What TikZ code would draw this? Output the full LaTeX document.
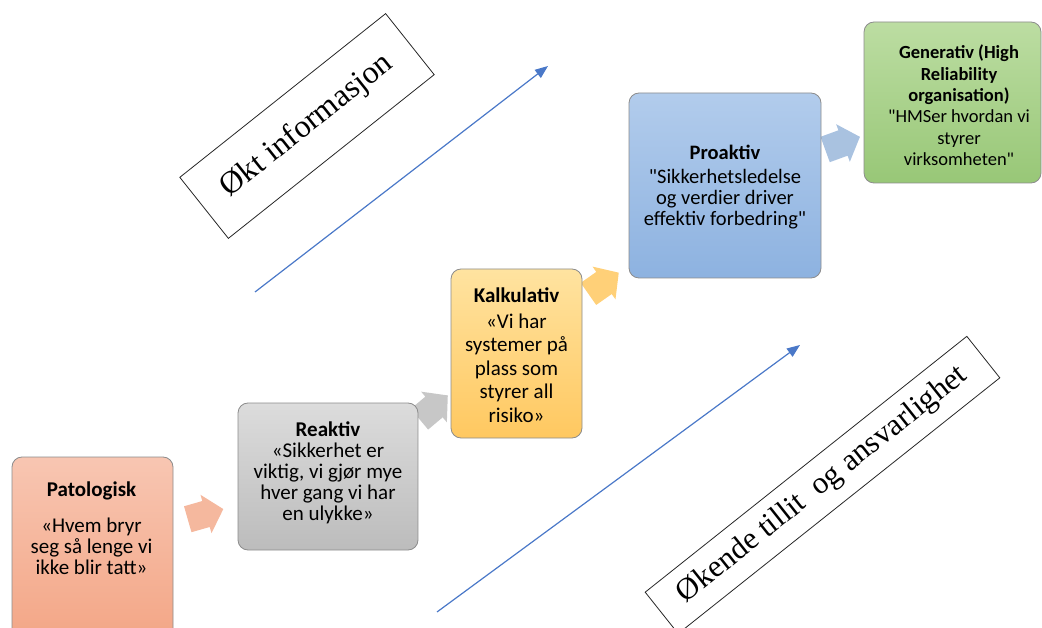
\documentclass[tikz,border=0pt]{standalone}
\usepackage{fontspec}
\setmainfont{Carlito}[Ligatures=TeXOff]
\newfontfamily\serifbox{Liberation Serif}
\usetikzlibrary{arrows.meta}

\definecolor{trendblue}{HTML}{4A78C8}
\definecolor{patTop}{HTML}{F8C6B2}
\definecolor{patBot}{HTML}{F3A686}
\definecolor{reaTop}{HTML}{DCDCDC}
\definecolor{reaBot}{HTML}{BCBCBC}
\definecolor{kalTop}{HTML}{FFE3A0}
\definecolor{kalBot}{HTML}{FFC860}
\definecolor{proTop}{HTML}{B2CCEC}
\definecolor{proBot}{HTML}{8DB2E0}
\definecolor{genTop}{HTML}{BCDDA2}
\definecolor{genBot}{HTML}{98C777}

\tikzset{
  stage/.style={draw=black!45, line width=0.8pt, rounded corners=10pt, inner sep=0pt},
  stagetext/.style={anchor=north, inner sep=0pt, align=center},
  banner/.style={draw=black!85, line width=0.8pt, rotate=38.5, inner sep=0pt,
    font=\serifbox\fontsize{32}{36}\selectfont},
  trend/.style={draw=trendblue, line width=1.2pt, -{Triangle[length=13pt,width=10pt]}},
  fatarrow/.pic={\fill[pic actions] (-19,-13.5) -- (0,-13.5) -- (0,-20) -- (18,0)
    -- (0,20) -- (0,13.5) -- (-19,13.5) -- cycle;}
}

\begin{document}
\begin{tikzpicture}[x=1pt,y=-1pt]
\useasboundingbox (0,0) rectangle (1042,628);
\clip (0,0) rectangle (1042,628);

% trend lines
\coordinate (infoA) at (255,292);
\coordinate (infoB) at (548,66);
\coordinate (tillitA) at (437,612);
\coordinate (tillitB) at (800,345);
\draw[trend] (infoA) -- (infoB);
\draw[trend] (tillitA) -- (tillitB);

% step arrows between the stages
\pic[fill=patBot!80!white, rotate=16] at (206,514) {fatarrow};
\pic[fill=black!22, rotate=40] at (434,407) {fatarrow};
\pic[fill=kalBot!85!white, rotate=35] at (604,283) {fatarrow};
\pic[fill=proTop!95!black, rotate=20] at (843,143) {fatarrow};

% stages
\node[stage, top color=patTop, bottom color=patBot, minimum width=161pt, minimum height=183pt] (pat) at (92.5,548.5) {};
\node[stage, top color=reaTop, bottom color=reaBot, minimum width=180pt, minimum height=147pt] (rea) at (328,476.5) {};
\node[stage, top color=kalTop, bottom color=kalBot, minimum width=131pt, minimum height=169pt] (kal) at (516.5,353.5) {};
\node[stage, top color=proTop, bottom color=proBot, minimum width=192pt, minimum height=185pt] (pro) at (725,185.5) {};
\node[stage, top color=genTop, bottom color=genBot, minimum width=177pt, minimum height=161pt] (gen) at (952.5,102.5) {};

% stage texts
\node[stagetext, font=\fontsize{21}{21}\selectfont] (patT) at (91.5,482)
  {\textbf{Patologisk}\\[15pt]«Hvem bryr\\seg så lenge vi\\ikke blir tatt»};
\node[stagetext, font=\fontsize{21}{21}\selectfont] (reaT) at (328,422)
  {\textbf{Reaktiv}\\«Sikkerhet er\\viktig, vi gjør mye\\hver gang vi har\\en ulykke»};
\node[stagetext, font=\fontsize{21}{23.5}\selectfont] (kalT) at (516.5,288)
  {\textbf{Kalkulativ}\\[2pt]«Vi har\\systemer på\\plass som\\styrer all\\risiko»};
\node[stagetext, font=\fontsize{20.5}{21}\selectfont] (proT) at (725,145)
  {\textbf{Proaktiv}\\[3pt]"Sikkerhetsledelse\\og verdier driver\\effektiv forbedring"};
\node[stagetext, font=\fontsize{18.5}{21.3}\selectfont] (genT) at (959,45)
  {\textbf{Generativ (High}\\\textbf{Reliability}\\\textbf{organisation)}\\"HMSer hvordan vi\\styrer\\virksomheten"};

% rotated labels
\node[banner, minimum width=263pt, minimum height=78pt] (info) at (307,126) {Økt informasjon};
\node[banner, minimum width=411pt, minimum height=53pt, font=\serifbox\fontsize{31}{34}\selectfont] (tillit) at (822.5,485) {Økende tillit~ og ansvarlighet};
\end{tikzpicture}
\end{document}
